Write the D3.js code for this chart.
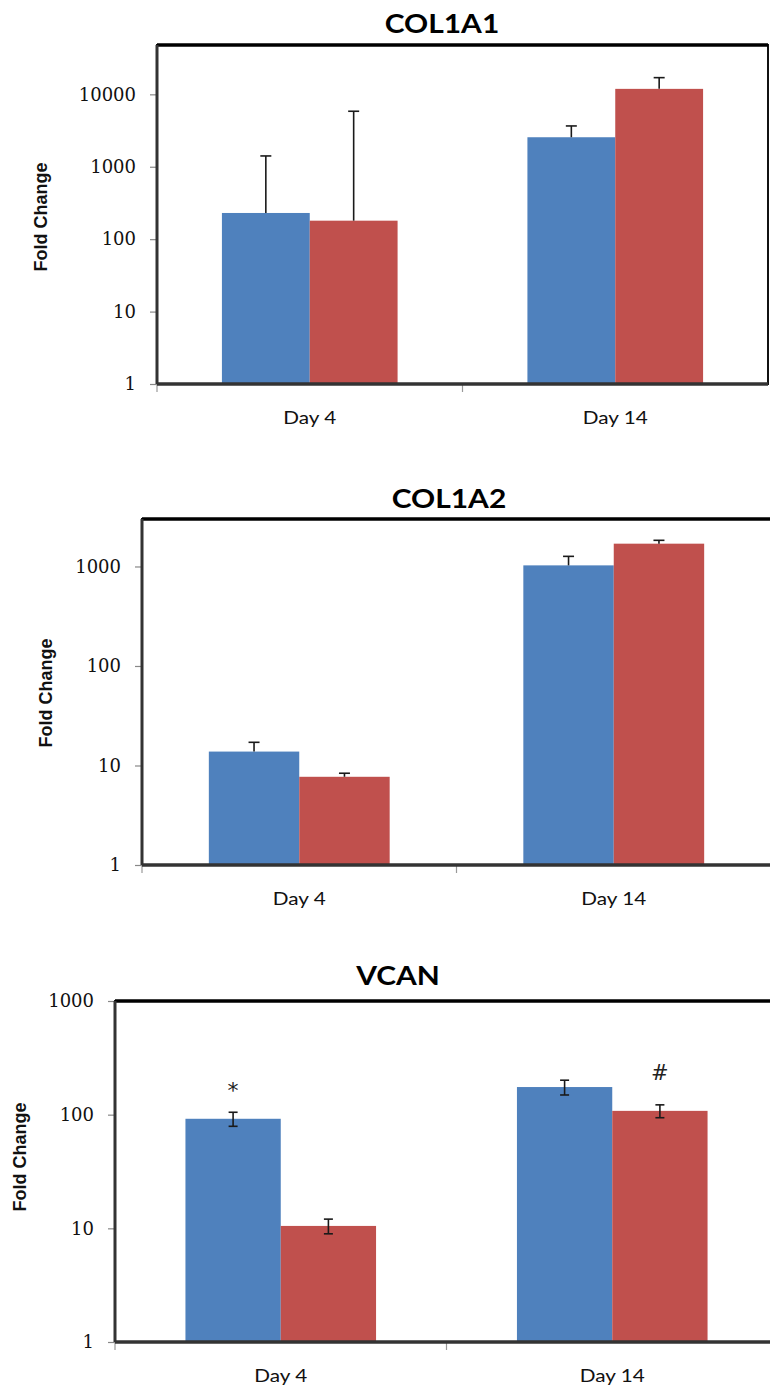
<!DOCTYPE html>
<html>
<head>
<meta charset="utf-8">
<script src="https://cdn.jsdelivr.net/npm/d3@7/dist/d3.min.js"></script>
<style>
  body { margin: 0; background: #fff; }
  svg { display: block; }
</style>
</head>
<body>
<svg id="chart" width="770" height="1391"></svg>
<script>
// categories shared by all three panels
const days = ['Day 4', 'Day 14'];

// COL1A1 (fold change, +SD only)
const col1a1Blue = [230, 2555];
const col1a1Red = [180, 11900];
const col1a1BlueErr = [1180, 1105];
const col1a1RedErr = [5660, 5100];
const col1a1Ticks = [1, 10, 100, 1000, 10000];
const col1a1Max = 48000;

// COL1A2
const col1a2Blue = [13.8, 1026];
const col1a2Red = [7.7, 1695];
const col1a2BlueErr = [3.3, 238];
const col1a2RedErr = [0.66, 137];
const col1a2Ticks = [1, 10, 100, 1000];
const col1a2Max = 3000;

// VCAN (error bars both ways, significance marks)
const vcanBlue = [92, 175];
const vcanRed = [10.5, 108];
const vcanBlueErr = [13, 26];
const vcanRedErr = [1.55, 14];
const vcanBlueMarks = ['*', ''];
const vcanRedMarks = ['', '#'];
const vcanTicks = [1, 10, 100, 1000];
const vcanMax = 1000;

const colors = ['#4f81bd', '#c0504d'];

const conf = {
  gap: 0.425,
  tickSize: 7,
  tickPad: 14,
  stretch: 1.15 // the source picture is a bit wider than tall
};

const panels = [
  {
    title: 'COL1A1', values: [col1a1Blue, col1a1Red], errs: [col1a1BlueErr, col1a1RedErr],
    marks: null, bothWays: false, ticks: col1a1Ticks, yMax: col1a1Max,
    left: 157, right: 768, top: 45, bottom: 384,
    titleX: 442, titleY: 33, labelX: 41, labelY: 217, capW: 11
  },
  {
    title: 'COL1A2', values: [col1a2Blue, col1a2Red], errs: [col1a2BlueErr, col1a2RedErr],
    marks: null, bothWays: false, ticks: col1a2Ticks, yMax: col1a2Max,
    left: 142, right: 771, top: 519, bottom: 865,
    titleX: 449, titleY: 508, labelX: 46, labelY: 693, capW: 11
  },
  {
    title: 'VCAN', values: [vcanBlue, vcanRed], errs: [vcanBlueErr, vcanRedErr],
    marks: [vcanBlueMarks, vcanRedMarks], bothWays: true, ticks: vcanTicks, yMax: vcanMax,
    left: 115, right: 778, top: 1001, bottom: 1342,
    titleX: 398, titleY: 985, labelX: 20, labelY: 1157, capW: 9
  }
];

const svg = d3.select('#chart');

// widen a text element horizontally, like the stretched source
const stretch = function(sel, k) {
  sel.each(function() {
    const w = this.getComputedTextLength();
    d3.select(this)
      .attr('textLength', w * k)
      .attr('lengthAdjust', 'spacingAndGlyphs');
  });
};

const drawPanel = function(p) {
  const g = svg.append('g').attr('class', 'panel');

  const x = d3
    .scaleBand()
    .domain(days)
    .range([p.left, p.right])
    .paddingInner(conf.gap)
    .paddingOuter(conf.gap / 2);
  const xs = d3
    .scaleBand()
    .domain([0, 1])
    .range([0, x.bandwidth()]);
  const y = d3
    .scaleLog()
    .domain([1, p.yMax])
    .range([p.bottom, p.top]);

  // plot area frame
  g.append('rect')
    .attr('x', p.left)
    .attr('y', p.top)
    .attr('width', p.right - p.left)
    .attr('height', p.bottom - p.top)
    .attr('fill', '#fff')
    .attr('stroke', '#111')
    .attr('stroke-width', 2);
  g.append('line')
    .attr('x1', p.left)
    .attr('x2', p.right)
    .attr('y1', p.top)
    .attr('y2', p.top)
    .attr('stroke', '#000')
    .attr('stroke-width', 3.5);

  // bars
  p.values.forEach((vals, s) => {
    g.selectAll(null)
      .data(vals)
      .enter()
      .append('rect')
      .attr('x', (d, i) => x(days[i]) + xs(s))
      .attr('y', d => y(d))
      .attr('width', xs.bandwidth())
      .attr('height', d => y(1) - y(d))
      .attr('fill', colors[s]);
  });

  // error bars
  p.values.forEach((vals, s) => {
    vals.forEach((v, i) => {
      const cx = x(days[i]) + xs(s) + xs.bandwidth() / 2;
      const e = p.errs[s][i];
      const yTop = y(v + e);
      const yBot = p.bothWays ? y(v - e) : y(v);
      const eb = g.append('g').attr('stroke', '#1a1a1a').attr('stroke-width', 1.6);
      eb.append('line').attr('x1', cx).attr('x2', cx).attr('y1', yTop).attr('y2', yBot);
      eb.append('line')
        .attr('x1', cx - p.capW / 2)
        .attr('x2', cx + p.capW / 2)
        .attr('y1', yTop)
        .attr('y2', yTop);
      if (p.bothWays) {
        eb.append('line')
          .attr('x1', cx - p.capW / 2)
          .attr('x2', cx + p.capW / 2)
          .attr('y1', yBot)
          .attr('y2', yBot);
      }
      if (p.marks && p.marks[s][i]) {
        const m = p.marks[s][i];
        g.append('text')
          .attr('x', cx)
          .attr('y', m === '*' ? yTop - 14 : yTop - 25)
          .attr('text-anchor', 'middle')
          .attr('font-family', '"DejaVu Sans", sans-serif')
          .attr('font-size', m === '*' ? 22 : 21)
          .attr('fill', '#222')
          .text(m);
      }
    });
  });

  // y axis
  const yAxis = d3
    .axisLeft(y)
    .tickValues(p.ticks)
    .tickFormat(d => String(d))
    .tickSize(conf.tickSize)
    .tickPadding(conf.tickPad);
  const ya = g
    .append('g')
    .attr('transform', 'translate(' + p.left + ',0)')
    .call(yAxis);
  ya.select('.domain').remove();
  ya.selectAll('.tick line').attr('stroke', '#888').attr('stroke-width', 1.2);
  ya.selectAll('.tick text')
    .attr('font-family', '"DejaVu Serif", serif')
    .attr('font-size', 18)
    .attr('fill', '#111');

  // x axis
  const xa = g.append('g');
  xa.selectAll(null)
    .data(days)
    .enter()
    .append('line')
    .attr('x1', d => x(d) - (x.step() - x.bandwidth()) / 2)
    .attr('x2', d => x(d) - (x.step() - x.bandwidth()) / 2)
    .attr('y1', p.bottom)
    .attr('y2', p.bottom + 8)
    .attr('stroke', '#999')
    .attr('stroke-width', 1.2);
  const dayText = xa
    .selectAll(null)
    .data(days)
    .enter()
    .append('text')
    .attr('x', d => x(d) + x.bandwidth() / 2)
    .attr('y', p.bottom + 40)
    .attr('text-anchor', 'middle')
    .attr('font-family', 'Lato, sans-serif')
    .attr('font-size', 18)
    .attr('fill', '#111')
    .text(d => d);
  stretch(dayText, conf.stretch);

  // axis lines on top
  g.append('line')
    .attr('x1', p.left)
    .attr('x2', p.left)
    .attr('y1', p.top)
    .attr('y2', p.bottom)
    .attr('stroke', '#333')
    .attr('stroke-width', 3);
  g.append('line')
    .attr('x1', p.left)
    .attr('x2', p.right)
    .attr('y1', p.bottom)
    .attr('y2', p.bottom)
    .attr('stroke', '#333')
    .attr('stroke-width', 3.5);

  // title
  const title = g
    .append('text')
    .attr('x', p.titleX)
    .attr('y', p.titleY)
    .attr('text-anchor', 'middle')
    .attr('font-family', 'Lato, sans-serif')
    .attr('font-weight', 'bold')
    .attr('font-size', 26)
    .attr('fill', '#000')
    .text(p.title);
  stretch(title, conf.stretch);

  // y axis label
  g.append('text')
    .attr('transform', 'translate(' + p.labelX + ',' + p.labelY + ') rotate(-90)')
    .attr('text-anchor', 'middle')
    .attr('dominant-baseline', 'central')
    .attr('font-family', '"Liberation Sans", Arial, sans-serif')
    .attr('font-weight', 'bold')
    .attr('font-size', 18)
    .attr('fill', '#111')
    .text('Fold Change');
};

panels.forEach(drawPanel);
</script>
</body>
</html>
